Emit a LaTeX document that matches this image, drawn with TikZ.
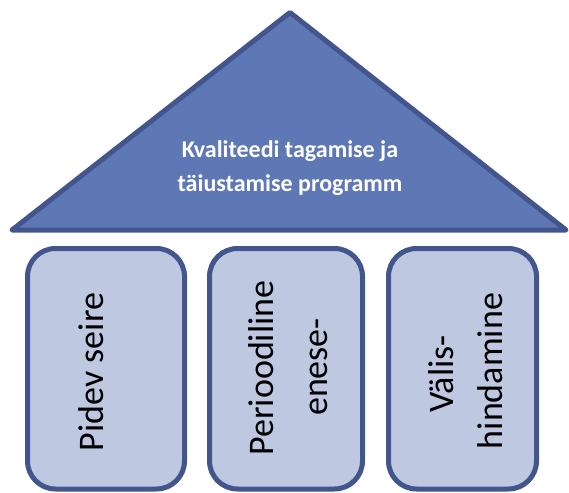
\documentclass[tikz,border=0pt]{standalone}
\usepackage{fontspec}
\setmainfont{Carlito}
\definecolor{roofFill}{RGB}{94,119,181}
\definecolor{darkEdge}{RGB}{66,86,141}
\definecolor{pillarFill}{RGB}{190,200,225}
\begin{document}
\begin{tikzpicture}[x=1pt,y=-1pt,
  roof/.style={fill=roofFill,draw=darkEdge,line width=5pt,line join=round},
  pillar/.style={fill=pillarFill,draw=darkEdge,line width=5pt,rounded corners=28pt},
  rooftext/.style={text=white,font=\fontsize{24}{28}\selectfont\bfseries,anchor=base,inner sep=0pt},
  pillartext/.style={text=black,font=\fontsize{36}{40}\selectfont,rotate=90,anchor=base,inner sep=0pt}]
\useasboundingbox (0,0) rectangle (569,492);
\draw[roof] (290,12.5) coordinate (apex) -- (12,230) coordinate (bl) -- (566,230) coordinate (br) -- cycle;
\node[rooftext] (t1) at (290,157) {Kvaliteedi tagamise ja};
\node[rooftext] (t2) at (290,191) {täiustamise programm};
\draw[pillar] (27.5,248.5) rectangle (184.5,489);
\draw[pillar] (209.5,248.5) rectangle (362.5,489);
\draw[pillar] (388.5,248.5) rectangle (536.5,489);
\node[pillartext] (p1) at (103,372) {Pidev seire};
\node[pillartext] (p2a) at (273,368) {Perioodiline};
\node[pillartext] (p2b) at (327,367) {enese-};
\node[pillartext] (p3a) at (453,374) {Välis-};
\node[pillartext] (p3b) at (502,371) {hindamine};
\end{tikzpicture}
\end{document}
